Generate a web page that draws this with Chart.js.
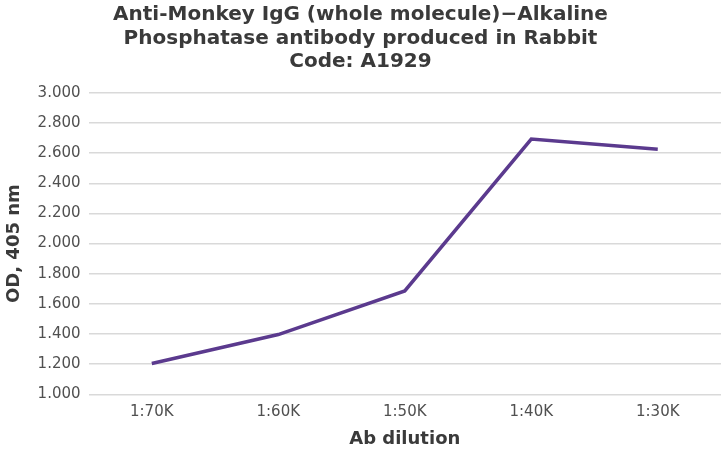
<!DOCTYPE html>
<html lang="en">
<head>
  <meta charset="UTF-8">
  <title>A1929 titration</title>
  <script src="https://cdn.jsdelivr.net/npm/chart.js"></script>
  <style>
    html, body { margin: 0; padding: 0; background: #fff; }
    #wrap { width: 722px; height: 450px; }
  </style>
</head>
<body>
  <div id="wrap"><canvas id="odChart"></canvas></div>

  <script>
    const dilutions = ['1:70K', '1:60K', '1:50K', '1:40K', '1:30K'];
    const odValues = [1.205, 1.397, 1.686, 2.693, 2.626];
    const titleLines = [
      'Anti-Monkey IgG (whole molecule)\u2212Alkaline',
      'Phosphatase antibody produced in Rabbit',
      'Code: A1929'
    ];

    const font = "'DejaVu Sans', Verdana, sans-serif";
    const tickColor = '#505050';
    const titleColor = '#3a3a3a';

    new Chart(document.getElementById('odChart').getContext('2d'), {
      type: 'line',
      data: {
        labels: dilutions,
        datasets: [{
          label: 'OD, 405 nm',
          data: odValues,
          borderColor: '#5b3a8e',
          borderWidth: 3.5,
          pointRadius: 0,
          tension: 0,
          fill: false
        }]
      },
      options: {
        responsive: true,
        maintainAspectRatio: false,
        animation: false,
        layout: { padding: { top: 3, right: 1, left: 0, bottom: 0 } },
        plugins: {
          legend: { display: false },
          tooltip: { enabled: false },
          title: {
            display: true,
            text: titleLines,
            color: titleColor,
            font: { family: font, size: 20, weight: 'bold', lineHeight: 1.18 },
            padding: { top: 0, bottom: 19 }
          }
        },
        scales: {
          x: {
            offset: true,
            grid: { display: false },
            border: { display: false },
            ticks: { color: tickColor, font: { family: font, size: 15 }, padding: 1 },
            title: {
              display: true,
              text: 'Ab dilution',
              color: titleColor,
              font: { family: font, size: 18, weight: 'bold' },
              padding: { top: 6, bottom: 0 }
            }
          },
          y: {
            min: 1,
            max: 3,
            grid: { color: '#d9d9d9', lineWidth: 1.5, drawTicks: false },
            border: { display: false },
            ticks: {
              stepSize: 0.2,
              color: tickColor,
              font: { family: font, size: 15 },
              padding: 8,
              callback: v => v.toFixed(3)
            },
            title: {
              display: true,
              text: 'OD, 405 nm',
              color: titleColor,
              font: { family: font, size: 18, weight: 'bold' },
              padding: { bottom: 4 }
            }
          }
        }
      }
    });
  </script>
</body>
</html>
